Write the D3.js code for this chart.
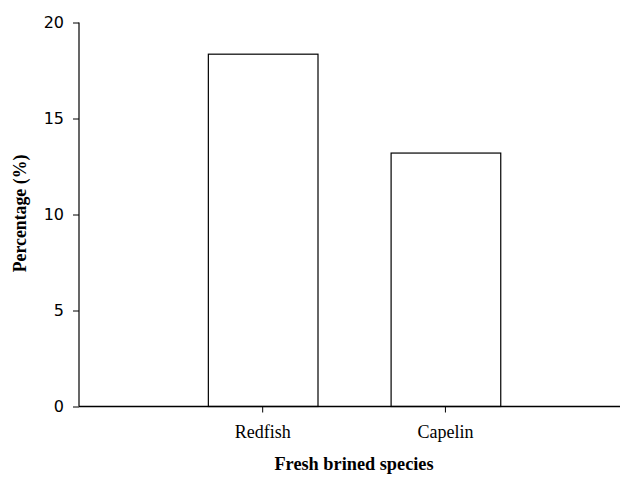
<!DOCTYPE html>
<html><head><meta charset="utf-8">
<script src="https://cdn.jsdelivr.net/npm/d3@7"></script>
<style>body{margin:0;background:#fff}</style>
</head><body><svg id="c" width="620" height="477"></svg>
<script>
const categories = ["Redfish", "Capelin"];
const values = [18.35, 13.2];
const yTicks = [0, 5, 10, 15, 20];
const xTitle = "Fresh brined species";
const yTitle = "Percentage (%)";

const svg = d3.select("#c");
const x0 = 79, xEnd = 620, yTop = 22.5, yBot = 406.5;
const y = d3.scaleLinear().domain([0, 20]).range([yBot, yTop]);
const x = d3.scaleBand().domain(categories).range([171.3, 536.8]).paddingInner(0.4).paddingOuter(0.2);

// bars
svg.selectAll("rect.bar").data(values).join("rect")
  .attr("x", (d, i) => x(categories[i]) + 0.5)
  .attr("y", d => y(d))
  .attr("width", x.bandwidth())
  .attr("height", d => yBot - y(d))
  .attr("fill", "#fff").attr("stroke", "#000").attr("stroke-width", 1.2);

// y axis
const yAxis = svg.append("g").attr("transform", `translate(${x0},0)`)
  .call(d3.axisLeft(y).tickValues(yTicks).tickSize(6).tickPadding(9).tickFormat(d3.format("d")));
yAxis.select(".domain").attr("d", `M0,${yTop}V${yBot}`).attr("stroke-width", 1.2);
yAxis.selectAll("text").attr("font-family", "'DejaVu Sans',sans-serif").attr("font-size", 16).attr("fill", "#000");

// x axis
const xAxis = svg.append("g").attr("transform", `translate(0,${yBot})`)
  .call(d3.axisBottom(x).tickSize(6).tickPadding(12.5));
xAxis.select(".domain").attr("d", `M${x0},0H${xEnd}`).attr("stroke-width", 1.6);
xAxis.selectAll("text").attr("font-family", "'Liberation Serif','Times New Roman',serif").attr("font-size", 18).attr("fill", "#000");

svg.append("text").attr("x", 354).attr("y", 470)
  .attr("text-anchor", "middle").attr("font-family", "'Liberation Serif','Times New Roman',serif")
  .attr("font-weight", "bold").attr("font-size", 18.3).text(xTitle);

svg.append("text").attr("transform", `translate(26,${213.5}) rotate(-90)`)
  .attr("text-anchor", "middle").attr("font-family", "'Liberation Serif','Times New Roman',serif")
  .attr("font-weight", "bold").attr("font-size", 17.8).text(yTitle);
</script></body></html>
